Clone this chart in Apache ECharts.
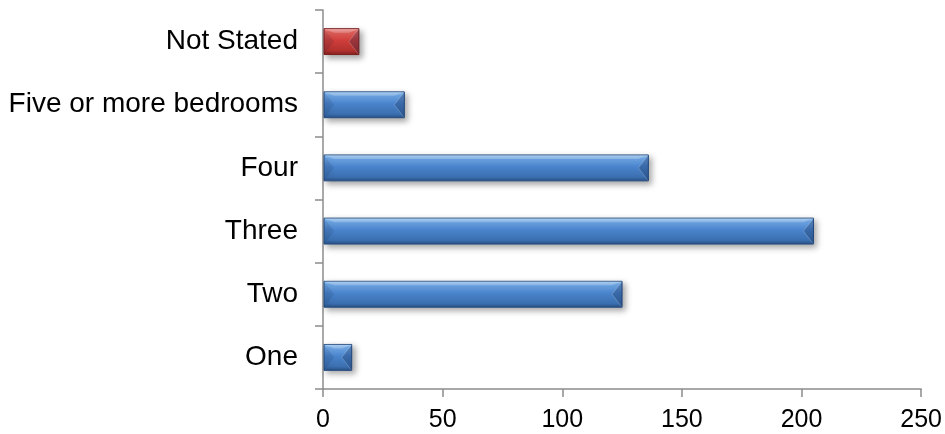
<!DOCTYPE html>
<html>
<head>
<meta charset="utf-8">
<script src="https://cdn.jsdelivr.net/npm/echarts@6/dist/echarts.min.js"></script>
<style>
  html, body { margin: 0; padding: 0; background: #ffffff; }
  #chart { width: 945px; height: 434px; }
</style>
</head>
<body>
<div id="chart"></div>
<script>
// Dwellings by number of bedrooms (bottom to top on the category axis)
var categories = ['One', 'Two', 'Three', 'Four', 'Five or more bedrooms', 'Not Stated'];
var dwellings = [12, 125, 205, 136, 34, 15];
var xTicks = [0, 50, 100, 150, 200, 250];

// Bevelled bar palettes: [top light, upper, middle, lower, bottom edge]
var bluePalette = ['#a2d0fa', '#72aaea', '#4a84cc', '#3b6fb0', '#274e82'];
var redPalette = ['#f59e9c', '#e4645f', '#cf3e3a', '#b2312e', '#7c1f1d'];

function paletteFor(name) {
  return name === 'Not Stated' ? redPalette : bluePalette;
}

function faceGradient(p) {
  return new echarts.graphic.LinearGradient(0, 0, 0, 1, [
    { offset: 0, color: p[0] },
    { offset: 0.14, color: p[1] },
    { offset: 0.45, color: p[2] },
    { offset: 0.85, color: p[3] },
    { offset: 1, color: p[4] }
  ]);
}

var chart = echarts.init(document.getElementById('chart'), null, { renderer: 'canvas' });

var seriesData = dwellings.map(function (v, i) { return [v, i]; });

chart.setOption({
  animation: false,
  backgroundColor: '#ffffff',
  grid: { left: 323, right: 22, top: 10, bottom: 45, containLabel: false },
  xAxis: {
    type: 'value',
    min: xTicks[0],
    max: xTicks[xTicks.length - 1],
    interval: xTicks[1] - xTicks[0],
    axisLine: { show: true, lineStyle: { color: '#8c8c8c', width: 1.5 } },
    axisTick: { show: true, length: 8, lineStyle: { color: '#8c8c8c', width: 1.5 } },
    splitLine: { show: false },
    axisLabel: {
      margin: 19,
      color: '#000000',
      fontFamily: 'Liberation Sans, Arial, sans-serif',
      fontSize: 25
    }
  },
  yAxis: {
    type: 'category',
    data: categories,
    axisLine: { show: true, lineStyle: { color: '#8c8c8c', width: 1.5 } },
    axisTick: { show: true, length: 8, lineStyle: { color: '#8c8c8c', width: 1.5 } },
    axisLabel: {
      margin: 25,
      color: '#000000',
      fontFamily: 'Liberation Sans, Arial, sans-serif',
      fontSize: 28
    }
  },
  series: [{
    type: 'custom',
    encode: { x: 0, y: 1 },
    data: seriesData,
    renderItem: function (params, api) {
      var value = api.value(0);
      var cat = api.value(1);
      var start = api.coord([0, cat]);
      var end = api.coord([value, cat]);
      var band = api.size([0, 1])[1];
      var h = band * 0.41;
      var x0 = start[0] + 1;
      var x1 = end[0];
      var y0 = start[1] - h / 2;
      var y1 = start[1] + h / 2;
      var ym = start[1];
      var b = Math.min(10, (x1 - x0) / 2);
      var t = 4;
      var p = paletteFor(categories[cat]);
      return {
        type: 'group',
        children: [
          {
            type: 'rect',
            shape: { x: x0, y: y0, width: x1 - x0, height: h },
            style: {
              fill: faceGradient(p),
              stroke: p[4],
              lineWidth: 1,
              shadowBlur: 6,
              shadowOffsetX: 3,
              shadowOffsetY: 3,
              shadowColor: 'rgba(0,0,0,0.35)'
            }
          },
          {
            // top bevel highlight
            type: 'polygon',
            shape: { points: [[x0, y0], [x1, y0], [x1 - b, y0 + t], [x0 + b, y0 + t]] },
            style: { fill: 'rgba(255,255,255,0.22)' }
          },
          {
            // left end face
            type: 'polygon',
            shape: { points: [[x0, y0], [x0 + b, ym], [x0, y1]] },
            style: { fill: 'rgba(10,30,70,0.10)' }
          },
          {
            // right end face
            type: 'polygon',
            shape: { points: [[x1, y0], [x1 - b, ym], [x1, y1]] },
            style: { fill: 'rgba(10,30,70,0.26)' }
          },
          {
            type: 'polyline',
            shape: { points: [[x1 - 0.5, y0 + 0.5], [x1 - b, ym], [x1 - 0.5, y1 - 0.5]] },
            style: { stroke: 'rgba(255,255,255,0.2)', lineWidth: 1, fill: null }
          }
        ]
      };
    }
  }]
});
</script>
</body>
</html>
